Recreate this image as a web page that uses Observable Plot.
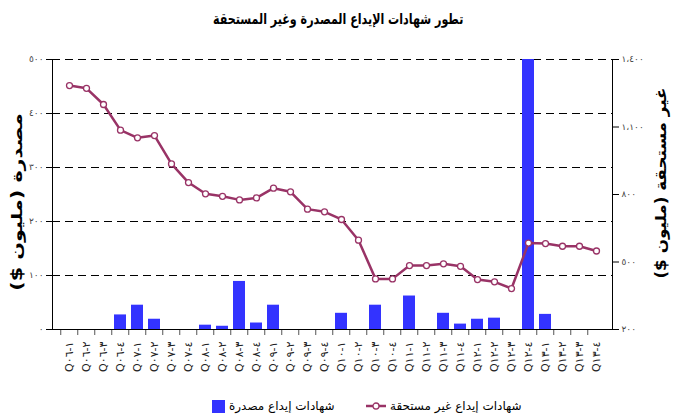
<!DOCTYPE html>
<html><head><meta charset="utf-8">
<script src="https://cdn.jsdelivr.net/npm/d3@7"></script>
<script src="https://cdn.jsdelivr.net/npm/@observablehq/plot@0.6"></script>
<style>
body{margin:0;background:#fff;font-family:"DejaVu Sans",sans-serif;}
#wrap{position:relative;width:676px;height:419px;overflow:hidden;}
#title{position:absolute;top:10px;left:0;width:676px;text-align:center;font-weight:bold;font-size:15px;direction:rtl;}
#title span{display:inline-block;transform:scaleX(0.74);}
#plots{position:absolute;top:40px;left:0;width:676px;height:355px;}
#plots svg{position:absolute;top:0;left:0;background:transparent;}
.ytitle{position:absolute;font-weight:bold;font-size:15px;line-height:16px;direction:rtl;white-space:nowrap;}
#legend{position:absolute;top:399px;left:0;width:676px;font-size:12px;}
.li{position:absolute;top:0;display:flex;align-items:center;gap:4px;direction:ltr;}
</style></head>
<body><div id="wrap">
<div id="title"><span>تطور شهادات الإيداع المصدرة وغير المستحقة</span></div>
<div id="plots"></div>
<div class="ytitle" style="left:17px;top:202px;transform:translate(-50%,-50%) rotate(-90deg) scaleX(1.38);">مصدرة (مليون $)</div>
<div class="ytitle" style="left:661px;top:183px;transform:translate(-50%,-50%) rotate(-90deg) scaleX(1.12);">غير مستحقة (مليون $)</div>
<div id="legend"></div>
</div>
<script>
const categories = ["Q١-٠٦","Q٢-٠٦","Q٣-٠٦","Q٤-٠٦","Q١-٠٧","Q٢-٠٧","Q٣-٠٧","Q٤-٠٧",
  "Q١-٠٨","Q٢-٠٨","Q٣-٠٨","Q٤-٠٨","Q١-٠٩","Q٢-٠٩","Q٣-٠٩","Q٤-٠٩",
  "Q١-١٠","Q٢-١٠","Q٣-١٠","Q٤-١٠","Q١-١١","Q٢-١١","Q٣-١١","Q٤-١١",
  "Q١-١٢","Q٢-١٢","Q٣-١٢","Q٤-١٢","Q١-١٣","Q٢-١٣","Q٣-١٣","Q٤-١٣"];
const issued = [0,0,0,27,45,19,0,0,8,6,89,12,45,0,0,0,30,0,45,0,62,0,30,10,19,21,0,500,28,0,0,0];
const outstanding = [1284,1272,1200,1086,1052,1062,936,853,803,792,776,785,828,812,735,723,689,597,425,425,484,484,492,481,422,412,382,584,582,570,570,549];
const leftTicks = [0,100,200,300,400,500];
const rightTicks = [200,500,800,1100,1400];
const seriesNames = ["شهادات إيداع مصدرة","شهادات إيداع غير مستحقة"];

const barColor = "#3333FF", lineColor = "#993366";
const loc = d3.formatLocale({decimal:"٫",thousands:"،",grouping:[3],currency:["",""],
  numerals:["٠","١","٢","٣","٤","٥","٦","٧","٨","٩"]});
const fmt = loc.format(",");

const W = 676, H = 355, mL = 52, mR = 64, mT = 19, mB = 66;
const step = (W - mL - mR) / categories.length;
const barData = categories.map((c,i)=>({c, v: issued[i]}));
const lineData = categories.map((c,i)=>({c, v: outstanding[i]}));
const xOpts = {type:"band", domain: categories, paddingInner:0.32, paddingOuter:0.16};
const common = {width:W, height:H, marginLeft:mL, marginRight:mR, marginTop:mT, marginBottom:mB,
  style:{background:"transparent", fontFamily:"DejaVu Sans, sans-serif", overflow:"visible"}};

const p1 = Plot.plot({...common,
  x: xOpts,
  y: {domain:[0,500], clamp:true},
  marks: [
    Plot.gridY(leftTicks.slice(1), {stroke:"#000", strokeOpacity:1, strokeDasharray:"8,5", strokeWidth:1}),
    Plot.barY(barData, {x:"c", y:"v", fill: barColor}),
    Plot.axisY(leftTicks, {anchor:"left", tickSize:6, tickFormat: fmt, fontSize:9, fill:"#444", label:null, tickPadding:3}),
    Plot.axisX({tickSize:6, dx:-step/2, tickFormat:()=>"", stroke:"#555", label:null}),
    Plot.axisX({tickSize:0, tickRotate:-90, fontSize:11, fill:"#222", label:null, tickPadding:12}),
    Plot.frame({anchor:"left", stroke:"#000"}),
    Plot.frame({anchor:"bottom", stroke:"#000"})
  ]});
const p2 = Plot.plot({...common,
  x: xOpts,
  y: {domain:[200,1400]},
  marks: [
    Plot.line(lineData, {x:"c", y:"v", stroke: lineColor, strokeWidth:2.5}),
    Plot.dot(lineData, {x:"c", y:"v", r:3, fill:"#fff", stroke: lineColor, strokeWidth:1.3}),
    Plot.axisY(rightTicks, {anchor:"right", tickSize:6, tickFormat: fmt, fontSize:9, fill:"#444", label:null, tickPadding:3}),
    Plot.axisX({tickSize:0, tickFormat:()=>"", label:null}),
    Plot.frame({anchor:"right", stroke:"#000"})
  ]});
const holder = document.getElementById("plots");
holder.appendChild(p1); holder.appendChild(p2);

// legend
const lg = document.getElementById("legend");
const it1 = document.createElement("div"); it1.className="li"; it1.style.left="212px";
it1.innerHTML = `<svg width="13" height="13"><rect width="13" height="13" fill="${barColor}"/></svg><span style="direction:rtl">${seriesNames[0]}</span>`;
const it2 = document.createElement("div"); it2.className="li"; it2.style.left="366px";
it2.innerHTML = `<svg width="20" height="10"><line x1="0" x2="20" y1="5" y2="5" stroke="${lineColor}" stroke-width="2.5"/><circle cx="10" cy="5" r="3" fill="#fff" stroke="${lineColor}" stroke-width="1.3"/></svg><span style="direction:rtl">${seriesNames[1]}</span>`;
lg.appendChild(it1); lg.appendChild(it2);
</script>
</body></html>
